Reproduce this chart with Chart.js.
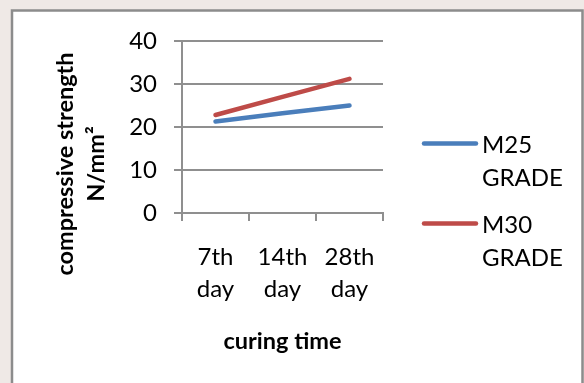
<!DOCTYPE html>
<html>
<head>
<meta charset="utf-8">
<script src="https://cdn.jsdelivr.net/npm/chart.js@4/dist/chart.umd.min.js"></script>
<style>
  html, body { margin: 0; padding: 0; background: #efe9e6; }
  #c { display: block; }
</style>
</head>
<body>
<canvas id="c" width="584" height="383"></canvas>
<script>
// ---- data ----
const categories = [["7th", "day"], ["14th", "day"], ["28th", "day"]];
const seriesNames = [["M25", "GRADE"], ["M30", "GRADE"]];
const m25 = [21.3, 23.2, 25.0];
const m30 = [22.8, 27.0, 31.2];
const yTicks = [0, 10, 20, 30, 40];
const yTitle = ["compressive strength", "N/mm²"];
const xTitle = "curing time";

const FONT = "Lato, 'Open Sans', sans-serif";
const GRID = "#8f8f8f";

const framePlugin = {
  id: "frame",
  beforeDraw(chart) {
    const ctx = chart.ctx;
    ctx.save();
    ctx.fillStyle = "#efe9e6";
    ctx.fillRect(0, 0, chart.width, chart.height);
    ctx.fillStyle = "#ffffff";
    ctx.fillRect(12, 10.5, 570.5, chart.height);
    ctx.strokeStyle = "#8c8c8c";
    ctx.lineWidth = 2.5;
    ctx.beginPath();
    ctx.moveTo(12, chart.height + 5);
    ctx.lineTo(12, 10.5);
    ctx.lineTo(582.5, 10.5);
    ctx.lineTo(582.5, chart.height + 5);
    ctx.stroke();
    ctx.restore();
  }
};

const yTitlePlugin = {
  id: "ytitle",
  afterDraw(chart) {
    const ctx = chart.ctx;
    ctx.save();
    ctx.fillStyle = "#000";
    ctx.font = "bold 23.5px " + FONT;
    ctx.textAlign = "center";
    ctx.textBaseline = "middle";
    const xs = [65, 96];
    yTitle.forEach((t, i) => {
      ctx.save();
      ctx.translate(xs[i], 164);
      ctx.rotate(-Math.PI / 2);
      ctx.fillText(t, 0, 0);
      ctx.restore();
    });
    ctx.restore();
  }
};

const legendPlugin = {
  id: "customLegend",
  afterDraw(chart) {
    const ctx = chart.ctx;
    ctx.save();
    chart.data.datasets.forEach((ds, i) => {
      const y = 143.5 + i * 80;
      ctx.strokeStyle = ds.borderColor;
      ctx.lineWidth = 4.5;
      ctx.lineCap = "round";
      ctx.beginPath();
      ctx.moveTo(424, y);
      ctx.lineTo(476, y);
      ctx.stroke();
      ctx.fillStyle = "#000";
      ctx.font = "24px " + FONT;
      ctx.textAlign = "left";
      ctx.textBaseline = "alphabetic";
      const lines = Array.isArray(ds.label) ? ds.label : [ds.label];
      lines.forEach((t, j) => ctx.fillText(t, 482, y + 9 + j * 33));
    });
    ctx.restore();
  }
};

new Chart(document.getElementById("c"), {
  type: "line",
  data: {
    labels: categories,
    datasets: [
      { label: seriesNames[0], data: m25, borderColor: "#4a7ebb", backgroundColor: "#4a7ebb",
        borderWidth: 4.5, pointRadius: 0, borderCapStyle: "round", tension: 0 },
      { label: seriesNames[1], data: m30, borderColor: "#be4b48", backgroundColor: "#be4b48",
        borderWidth: 4.5, pointRadius: 0, borderCapStyle: "round", tension: 0 }
    ]
  },
  options: {
    responsive: false,
    animation: false,
    devicePixelRatio: 1,
    layout: { padding: { left: 0, right: 201, top: 41, bottom: 0 } },
    plugins: { legend: { display: false }, tooltip: { enabled: false } },
    scales: {
      x: {
        offset: true,
        afterFit(scale) { scale.height = 170; },
        grid: { drawOnChartArea: false, drawTicks: true, tickLength: 8, offset: true, color: GRID, lineWidth: 2 },
        border: { display: true, color: GRID, width: 2 },
        ticks: { color: "#000", padding: 21, font: { family: FONT, size: 24, lineHeight: 1.3 }, maxRotation: 0 },
        title: { display: true, text: xTitle, color: "#000", font: { family: FONT, size: 23.5, weight: "bold", lineHeight: 1.2 }, padding: { top: 0, bottom: 27 } }
      },
      y: {
        min: 0, max: 40,
        afterFit(scale) { scale.width = 182; },
        afterBuildTicks(scale) { scale.ticks = yTicks.map(v => ({ value: v })); },
        grid: { drawTicks: true, tickLength: 8, color: GRID, lineWidth: 2 },
        border: { display: true, color: GRID, width: 2 },
        ticks: { color: "#000", padding: 17, font: { family: FONT, size: 24 } }
      }
    }
  },
  plugins: [framePlugin, yTitlePlugin, legendPlugin]
});
</script>
</body>
</html>
